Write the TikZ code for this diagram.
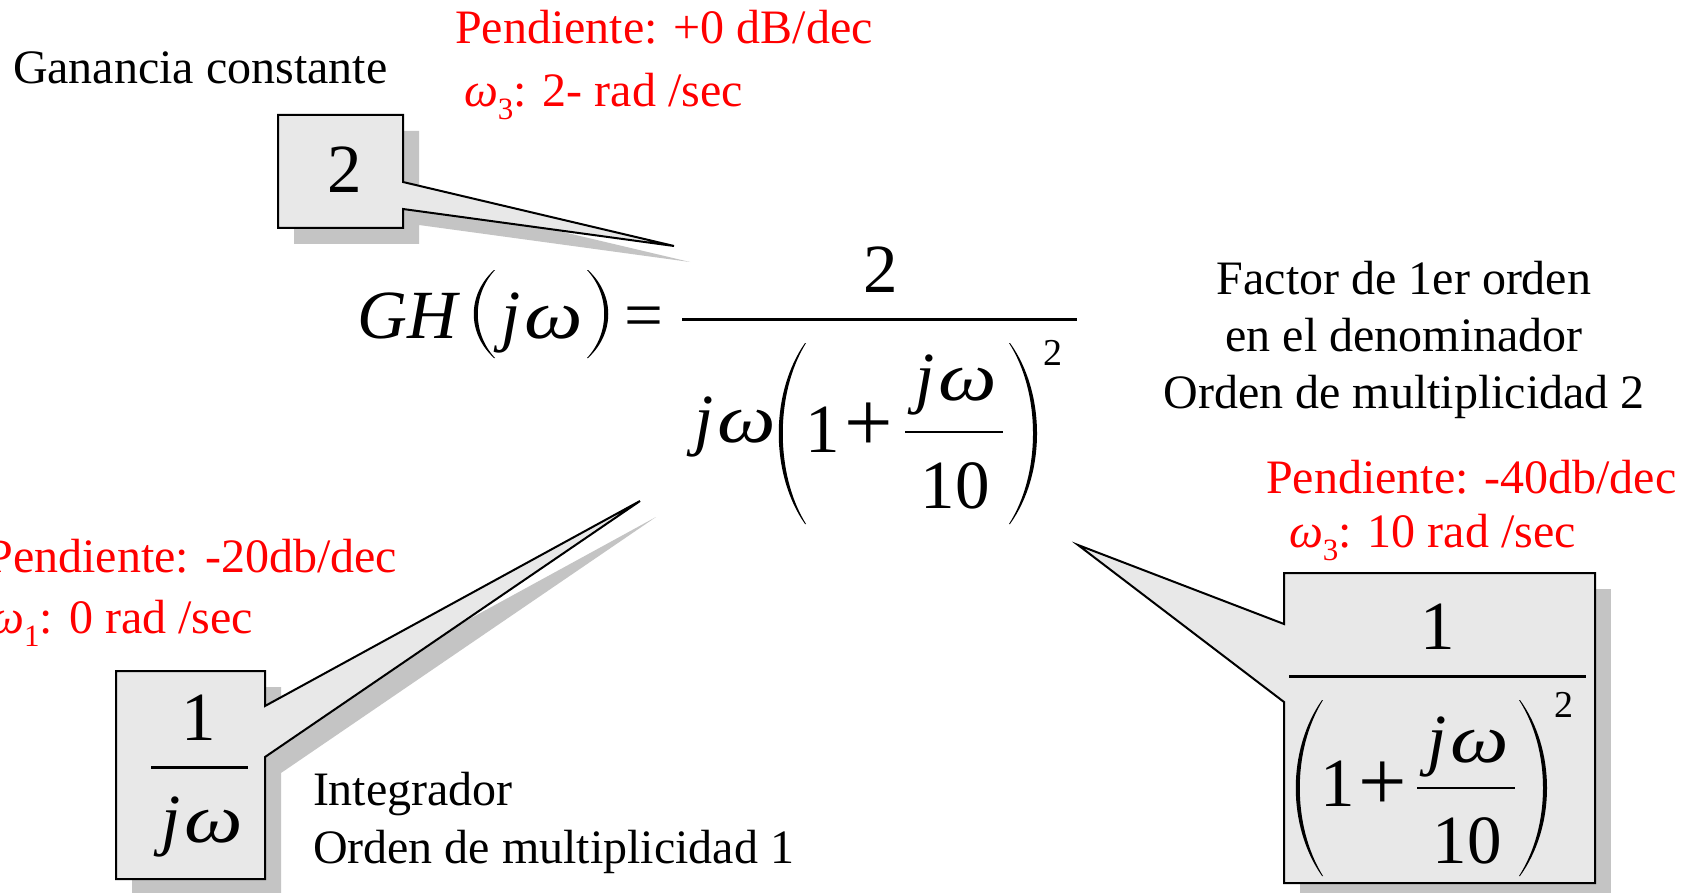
\documentclass[tikz,border=0pt]{standalone}
\usepackage{graphicx}
\usepackage{fontspec}
\setmainfont{Liberation Serif}
\definecolor{calfill}{HTML}{E8E8E8}
\definecolor{shadowgray}{HTML}{C4C4C4}
\newcommand\om{\scalebox{1.2}[1]{\itshape ω}}
\newcommand\lom{{\itshape ω}}
\newcommand\jw{{\itshape j\kern0.06em\om}}
\newcommand\subn[1]{\raisebox{-13pt}{\fontsize{31}{31}\selectfont #1}}
% left paren: x-end, control-x, y-top, y-bottom, control offset
\newcommand\drawlparen[5]{\fill (#1,#3) .. controls (#2,{#3+#5}) and (#2,{#4-#5}) .. (#1,#4) -- ({#1+1},#4) .. controls ({#2+5},{#4-#5}) and ({#2+5},{#3+#5}) .. ({#1+1},#3) -- cycle;}
\newcommand\drawrparen[5]{\fill (#1,#3) .. controls (#2,{#3+#5}) and (#2,{#4-#5}) .. (#1,#4) -- ({#1-1},#4) .. controls ({#2-5},{#4-#5}) and ({#2-5},{#3+#5}) .. ({#1-1},#3) -- cycle;}
\tikzset{
  txt/.style={font=\fontsize{48}{57}\selectfont, inner sep=0pt, outer sep=0pt},
  redtxt/.style={txt, text=red},
  eq/.style={font=\fontsize{69}{80}\selectfont, inner sep=0pt, anchor=base},
  plussign/.style={font=\fontsize{86}{90}\selectfont, inner sep=0pt, anchor=base},
  supn/.style={font=\fontsize{38}{40}\selectfont, inner sep=0pt, anchor=base},
  callout/.style={fill=calfill, draw=black, line width=2pt},
  shade/.style={fill=shadowgray},
  fbar/.style={line width=3pt},
  ibar/.style={line width=1.8pt},
}
\begin{document}
\begin{tikzpicture}[x=1pt,y=-1pt]
\useasboundingbox[fill=white] (0,0) rectangle (1693,893);

% ---------- callout A (constant gain) ----------
\begin{scope}[shift={(16,16)}]
  \fill[shade] (278,115) -- (403,115) -- (403,182) -- (674,246) -- (403,209) -- (403,228) -- (278,228) -- cycle;
\end{scope}
\draw[callout] (278,115) -- (403,115) -- (403,182) -- (674,246) -- (403,209) -- (403,228) -- (278,228) -- cycle;
\node[eq] (k2) at (345,193) {2};

% ---------- callout B (integrator) ----------
\begin{scope}[shift={(16,16)}]
  \fill[shade] (116,671) -- (265,671) -- (265,706) -- (640,501) -- (265,757) -- (265,879) -- (116,879) -- cycle;
\end{scope}
\draw[callout] (116,671) -- (265,671) -- (265,706) -- (640,501) -- (265,757) -- (265,879) -- (116,879) -- cycle;
\node[eq] (i1) at (199,740) {1};
\draw[fbar] (151,767) -- (248,767);
\node[eq] (ijw) at (202,842) {\jw};

% ---------- callout C (first order factor) ----------
\fill[shade] (1300,589) rectangle (1611,899);
\draw[callout] (1284,573) -- (1595,573) -- (1595,883) -- (1284,883) -- (1284,702) -- (1078,545) -- (1284,624) -- cycle;
\node[eq] (f1) at (1438,649) {1};
\draw[fbar] (1289,676) -- (1586,676);
\drawlparen{1322}{1287}{700}{876}{50}
\drawrparen{1520}{1556}{700}{876}{50}
\node[eq] (fone) at (1338,806) {1};
\node[plussign] (fplus) at (1383,810) {+};
\draw[ibar] (1417,788) -- (1515,788);
\node[eq] (fjw) at (1468,762) {\jw};
\node[eq] (f10) at (1467,863) {10};
\node[supn] (fsq) at (1564,717) {2};

% ---------- main equation ----------
\node[eq, anchor=base west] (gh) at (357,338) {\itshape GH};
\drawlparen{494}{467}{270}{358}{25}
\drawrparen{588}{615}{270}{358}{25}
\node[eq] (mjw) at (542,338) {\jw};
\node[eq] (meq) at (644,338) {=};
\draw[fbar] (682,319) -- (1077,319);
\node[eq] (mnum) at (881,292) {2};
\node[eq] (mdjw) at (735,442) {\jw};
\drawlparen{805}{770}{343}{524}{50}
\drawrparen{1010}{1046}{343}{524}{50}
\node[eq] (mone) at (823,452) {1};
\node[plussign] (mplus) at (869,451) {+};
\draw[ibar] (905,432) -- (1003,432);
\node[eq] (mijw) at (956,400) {\jw};
\node[eq] (m10) at (955,508) {10};
\node[supn] (msq) at (1053,365) {2};

% ---------- labels ----------
\node[txt, anchor=base west] (gan) at (13,84) {Ganancia constante};
\node[redtxt, anchor=base west] (p0) at (455,44) {Pendiente: +0 dB/dec};
\node[redtxt, anchor=base west] (w0) at (464,107) {\lom\subn{3}: 2- rad /sec};

\node[txt, anchor=base] (fa) at (1404,294) {Factor de 1er orden};
\node[txt, anchor=base] (fb) at (1404,351) {en el denominador};
\node[txt, anchor=base] (fc) at (1404,408) {Orden de multiplicidad 2};
\node[redtxt, anchor=base west] (p40) at (1266,493) {Pendiente: -40db/dec};
\node[redtxt, anchor=base west] (w10) at (1289,547) {\lom\subn{3}: 10 rad /sec};

\node[redtxt, anchor=base east] (p20) at (397,572) {Pendiente: -20db/dec};
\node[redtxt, anchor=base east] (w1) at (253,633) {\lom\subn{1}: 0 rad /sec};
\node[txt, anchor=base west] (int) at (313,805) {Integrador};
\node[txt, anchor=base west] (om1) at (313,863) {Orden de multiplicidad 1};
\end{tikzpicture}
\end{document}
